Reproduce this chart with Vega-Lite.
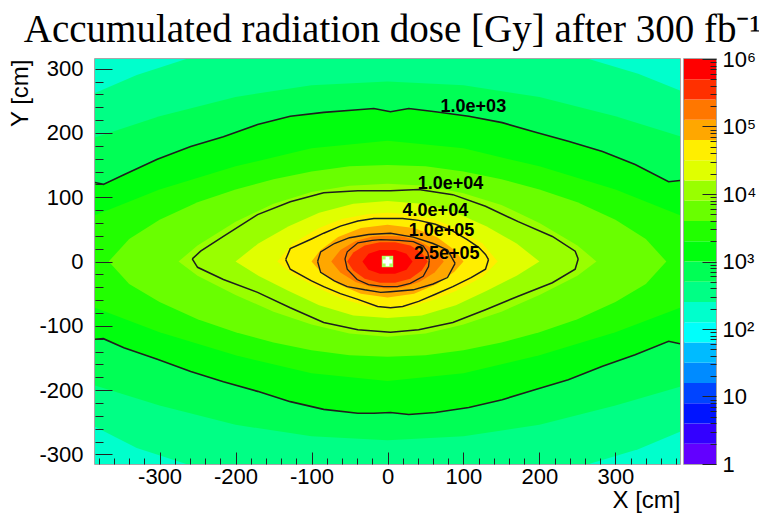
{
  "$schema": "https://vega.github.io/schema/vega-lite/v6.json",
  "background": "white",
  "padding": {"left": 8, "top": 11, "right": 2, "bottom": 2},
  "title": {"text": "Accumulated radiation dose [Gy] after 300 fb⁻¹", "font": "Liberation Serif", "fontSize": 39, "fontWeight": "normal", "color": "#000", "anchor": "middle", "offset": -3, "dx": 10},
  "config": {
    "view": {"stroke": "#8a8a8a", "strokeWidth": 1.5},
    "axis": {"labelFont": "Liberation Sans", "titleFont": "Liberation Sans", "labelFontSize": 22, "titleFontSize": 24, "titleFontWeight": "normal", "labelColor": "#000", "titleColor": "#000", "tickColor": "#222", "grid": false, "domain": false, "labelOverlap": false, "labelFlush": false}
  },
  "datasets": {
    "bands": [
      {"j":7,"x":-385,"y":315,"yb":-315},{"j":7,"x":385,"y":315,"yb":-315},
      {"j":8,"x":-385,"y":262,"yb":-257},{"j":8,"x":-330,"y":290,"yb":-290},{"j":8,"x":-265,"y":315,"yb":-315},{"j":8,"x":0,"y":315,"yb":-315},{"j":8,"x":265,"y":315,"yb":-315},{"j":8,"x":330,"y":292,"yb":-292},{"j":8,"x":385,"y":266,"yb":-265},
      {"j":9,"x":-385,"y":193,"yb":-193},{"j":9,"x":-300,"y":226,"yb":-224},{"j":9,"x":-200,"y":256,"yb":-254},{"j":9,"x":-100,"y":274,"yb":-272},{"j":9,"x":0,"y":280,"yb":-278},{"j":9,"x":100,"y":274,"yb":-272},{"j":9,"x":200,"y":256,"yb":-254},{"j":9,"x":300,"y":226,"yb":-224},{"j":9,"x":385,"y":195,"yb":-195},
      {"j":10,"x":-385,"y":123,"yb":-121},{"j":10,"x":-374,"y":120,"yb":-120},{"j":10,"x":-347,"y":135,"yb":-134},{"j":10,"x":-303,"y":159,"yb":-152},{"j":10,"x":-259,"y":179,"yb":-171},{"j":10,"x":-216,"y":194,"yb":-187},{"j":10,"x":-171,"y":213,"yb":-202},{"j":10,"x":-128,"y":226,"yb":-218},{"j":10,"x":-84,"y":232,"yb":-230},{"j":10,"x":-39,"y":236,"yb":-236},{"j":10,"x":-18,"y":238,"yb":-236},{"j":10,"x":4,"y":233,"yb":-235},{"j":10,"x":28,"y":238,"yb":-238},{"j":10,"x":63,"y":233,"yb":-235},{"j":10,"x":107,"y":226,"yb":-227},{"j":10,"x":151,"y":216,"yb":-215},{"j":10,"x":195,"y":201,"yb":-199},{"j":10,"x":238,"y":187,"yb":-184},{"j":10,"x":283,"y":171,"yb":-163},{"j":10,"x":326,"y":151,"yb":-145},{"j":10,"x":370,"y":124,"yb":-124},{"j":10,"x":385,"y":126,"yb":-128},
      {"j":11,"x":-385,"y":72,"yb":-72},{"j":11,"x":-300,"y":112,"yb":-110},{"j":11,"x":-200,"y":148,"yb":-146},{"j":11,"x":-100,"y":176,"yb":-174},{"j":11,"x":0,"y":188,"yb":-186},{"j":11,"x":100,"y":176,"yb":-174},{"j":11,"x":200,"y":148,"yb":-146},{"j":11,"x":300,"y":112,"yb":-110},{"j":11,"x":385,"y":72,"yb":-72},
      {"j":12,"x":-367,"y":0,"yb":0},{"j":12,"x":-340,"y":35,"yb":-35},{"j":12,"x":-300,"y":65,"yb":-63},{"j":12,"x":-250,"y":92,"yb":-90},{"j":12,"x":-200,"y":112,"yb":-110},{"j":12,"x":-150,"y":128,"yb":-126},{"j":12,"x":-100,"y":140,"yb":-138},{"j":12,"x":-50,"y":148,"yb":-146},{"j":12,"x":0,"y":150,"yb":-148},{"j":12,"x":50,"y":148,"yb":-146},{"j":12,"x":100,"y":140,"yb":-138},{"j":12,"x":150,"y":128,"yb":-126},{"j":12,"x":200,"y":112,"yb":-110},{"j":12,"x":250,"y":92,"yb":-90},{"j":12,"x":300,"y":65,"yb":-63},{"j":12,"x":340,"y":35,"yb":-35},{"j":12,"x":367,"y":0,"yb":0},
      {"j":13,"x":-275,"y":0,"yb":0},{"j":13,"x":-250,"y":25,"yb":-22},{"j":13,"x":-200,"y":62,"yb":-52},{"j":13,"x":-150,"y":90,"yb":-78},{"j":13,"x":-100,"y":108,"yb":-98},{"j":13,"x":-50,"y":118,"yb":-112},{"j":13,"x":0,"y":121,"yb":-117},{"j":13,"x":50,"y":118,"yb":-112},{"j":13,"x":100,"y":106,"yb":-98},{"j":13,"x":150,"y":88,"yb":-78},{"j":13,"x":200,"y":60,"yb":-52},{"j":13,"x":250,"y":25,"yb":-22},{"j":13,"x":275,"y":0,"yb":0},
      {"j":14,"x":-200,"y":0,"yb":0},{"j":14,"x":-170,"y":28,"yb":-22},{"j":14,"x":-130,"y":55,"yb":-46},{"j":14,"x":-90,"y":76,"yb":-68},{"j":14,"x":-45,"y":90,"yb":-84},{"j":14,"x":0,"y":94,"yb":-88},{"j":14,"x":45,"y":90,"yb":-84},{"j":14,"x":90,"y":76,"yb":-68},{"j":14,"x":130,"y":55,"yb":-46},{"j":14,"x":170,"y":28,"yb":-22},{"j":14,"x":200,"y":0,"yb":0},
      {"j":15,"x":-145,"y":0,"yb":0},{"j":15,"x":-125,"y":28,"yb":-20},{"j":15,"x":-90,"y":52,"yb":-42},{"j":15,"x":-60,"y":66,"yb":-58},{"j":15,"x":-25,"y":74,"yb":-70},{"j":15,"x":0,"y":76,"yb":-74},{"j":15,"x":25,"y":74,"yb":-72},{"j":15,"x":60,"y":66,"yb":-60},{"j":15,"x":90,"y":52,"yb":-46},{"j":15,"x":125,"y":28,"yb":-24},{"j":15,"x":145,"y":0,"yb":0},
      {"j":16,"x":-100,"y":0,"yb":0},{"j":16,"x":-88,"y":18,"yb":-16},{"j":16,"x":-65,"y":38,"yb":-35},{"j":16,"x":-35,"y":52,"yb":-50},{"j":16,"x":0,"y":57,"yb":-56},{"j":16,"x":35,"y":52,"yb":-50},{"j":16,"x":65,"y":38,"yb":-35},{"j":16,"x":88,"y":18,"yb":-16},{"j":16,"x":100,"y":0,"yb":0},
      {"j":17,"x":-74,"y":0,"yb":0},{"j":17,"x":-62,"y":18,"yb":-17},{"j":17,"x":-42,"y":32,"yb":-32},{"j":17,"x":-20,"y":39,"yb":-40},{"j":17,"x":0,"y":40,"yb":-42},{"j":17,"x":20,"y":39,"yb":-40},{"j":17,"x":42,"y":32,"yb":-32},{"j":17,"x":62,"y":18,"yb":-17},{"j":17,"x":74,"y":0,"yb":0},
      {"j":18,"x":-53,"y":0,"yb":0},{"j":18,"x":-45,"y":14,"yb":-14},{"j":18,"x":-30,"y":25,"yb":-27},{"j":18,"x":-10,"y":30,"yb":-33},{"j":18,"x":10,"y":30,"yb":-33},{"j":18,"x":30,"y":25,"yb":-27},{"j":18,"x":45,"y":14,"yb":-14},{"j":18,"x":53,"y":0,"yb":0},
      {"j":19,"x":-33,"y":0,"yb":0},{"j":19,"x":-25,"y":12,"yb":-13},{"j":19,"x":-10,"y":18,"yb":-19},{"j":19,"x":10,"y":18,"yb":-19},{"j":19,"x":25,"y":12,"yb":-13},{"j":19,"x":33,"y":0,"yb":0}
    ],
    "lines": [
      {"c":"1e3","s":"t","x":-385,"y":123},{"c":"1e3","s":"t","x":-374,"y":120},{"c":"1e3","s":"t","x":-347,"y":135},{"c":"1e3","s":"t","x":-303,"y":159},{"c":"1e3","s":"t","x":-259,"y":179},{"c":"1e3","s":"t","x":-216,"y":194},{"c":"1e3","s":"t","x":-171,"y":213},{"c":"1e3","s":"t","x":-128,"y":226},{"c":"1e3","s":"t","x":-84,"y":232},{"c":"1e3","s":"t","x":-39,"y":236},{"c":"1e3","s":"t","x":-18,"y":238},{"c":"1e3","s":"t","x":4,"y":233},{"c":"1e3","s":"t","x":28,"y":238},{"c":"1e3","s":"t","x":63,"y":233},{"c":"1e3","s":"t","x":107,"y":226},{"c":"1e3","s":"t","x":151,"y":216},{"c":"1e3","s":"t","x":195,"y":201},{"c":"1e3","s":"t","x":238,"y":187},{"c":"1e3","s":"t","x":283,"y":171},{"c":"1e3","s":"t","x":326,"y":151},{"c":"1e3","s":"t","x":370,"y":124},{"c":"1e3","s":"t","x":385,"y":126},
      {"c":"1e3","s":"b","x":-385,"y":-121},{"c":"1e3","s":"b","x":-374,"y":-120},{"c":"1e3","s":"b","x":-347,"y":-134},{"c":"1e3","s":"b","x":-303,"y":-152},{"c":"1e3","s":"b","x":-259,"y":-171},{"c":"1e3","s":"b","x":-216,"y":-187},{"c":"1e3","s":"b","x":-171,"y":-202},{"c":"1e3","s":"b","x":-128,"y":-218},{"c":"1e3","s":"b","x":-84,"y":-230},{"c":"1e3","s":"b","x":-39,"y":-236},{"c":"1e3","s":"b","x":-18,"y":-236},{"c":"1e3","s":"b","x":4,"y":-235},{"c":"1e3","s":"b","x":28,"y":-238},{"c":"1e3","s":"b","x":63,"y":-235},{"c":"1e3","s":"b","x":107,"y":-227},{"c":"1e3","s":"b","x":151,"y":-215},{"c":"1e3","s":"b","x":195,"y":-199},{"c":"1e3","s":"b","x":238,"y":-184},{"c":"1e3","s":"b","x":283,"y":-163},{"c":"1e3","s":"b","x":326,"y":-145},{"c":"1e3","s":"b","x":370,"y":-124},{"c":"1e3","s":"b","x":385,"y":-128},
      {"c":"1e4","s":"t","x":-257,"y":4},{"c":"1e4","s":"t","x":-246,"y":16},{"c":"1e4","s":"t","x":-216,"y":39},{"c":"1e4","s":"t","x":-171,"y":73},{"c":"1e4","s":"t","x":-128,"y":93},{"c":"1e4","s":"t","x":-84,"y":107},{"c":"1e4","s":"t","x":-39,"y":110},{"c":"1e4","s":"t","x":4,"y":110},{"c":"1e4","s":"t","x":41,"y":112},{"c":"1e4","s":"t","x":86,"y":104},{"c":"1e4","s":"t","x":129,"y":86},{"c":"1e4","s":"t","x":172,"y":62},{"c":"1e4","s":"t","x":217,"y":39},{"c":"1e4","s":"t","x":247,"y":16},{"c":"1e4","s":"t","x":251,"y":4},
      {"c":"1e4","s":"b","x":-257,"y":4},{"c":"1e4","s":"b","x":-250,"y":-9},{"c":"1e4","s":"b","x":-216,"y":-28},{"c":"1e4","s":"b","x":-171,"y":-48},{"c":"1e4","s":"b","x":-128,"y":-72},{"c":"1e4","s":"b","x":-84,"y":-95},{"c":"1e4","s":"b","x":-39,"y":-106},{"c":"1e4","s":"b","x":4,"y":-110},{"c":"1e4","s":"b","x":41,"y":-106},{"c":"1e4","s":"b","x":86,"y":-95},{"c":"1e4","s":"b","x":129,"y":-75},{"c":"1e4","s":"b","x":172,"y":-54},{"c":"1e4","s":"b","x":217,"y":-33},{"c":"1e4","s":"b","x":247,"y":-12},{"c":"1e4","s":"b","x":251,"y":4},
      {"c":"4e4","s":"t","x":-134,"y":3},{"c":"4e4","s":"t","x":-128,"y":20},{"c":"4e4","s":"t","x":-100,"y":35},{"c":"4e4","s":"t","x":-84,"y":44},{"c":"4e4","s":"t","x":-62,"y":55},{"c":"4e4","s":"t","x":-39,"y":63},{"c":"4e4","s":"t","x":-18,"y":67},{"c":"4e4","s":"t","x":4,"y":67},{"c":"4e4","s":"t","x":20,"y":67},{"c":"4e4","s":"t","x":41,"y":64},{"c":"4e4","s":"t","x":63,"y":58},{"c":"4e4","s":"t","x":85,"y":48},{"c":"4e4","s":"t","x":105,"y":34},{"c":"4e4","s":"t","x":120,"y":22},{"c":"4e4","s":"t","x":129,"y":11},{"c":"4e4","s":"t","x":133,"y":3},
      {"c":"4e4","s":"b","x":-134,"y":3},{"c":"4e4","s":"b","x":-128,"y":-12},{"c":"4e4","s":"b","x":-100,"y":-30},{"c":"4e4","s":"b","x":-84,"y":-39},{"c":"4e4","s":"b","x":-62,"y":-50},{"c":"4e4","s":"b","x":-39,"y":-59},{"c":"4e4","s":"b","x":-13,"y":-70},{"c":"4e4","s":"b","x":4,"y":-72},{"c":"4e4","s":"b","x":20,"y":-70},{"c":"4e4","s":"b","x":41,"y":-62},{"c":"4e4","s":"b","x":63,"y":-51},{"c":"4e4","s":"b","x":86,"y":-39},{"c":"4e4","s":"b","x":110,"y":-25},{"c":"4e4","s":"b","x":129,"y":-12},{"c":"4e4","s":"b","x":133,"y":3},
      {"c":"1e5","s":"t","x":-92,"y":0},{"c":"1e5","s":"t","x":-88,"y":15},{"c":"1e5","s":"t","x":-70,"y":28},{"c":"1e5","s":"t","x":-50,"y":37},{"c":"1e5","s":"t","x":-25,"y":42},{"c":"1e5","s":"t","x":4,"y":44},{"c":"1e5","s":"t","x":34,"y":38},{"c":"1e5","s":"t","x":60,"y":28},{"c":"1e5","s":"t","x":79,"y":18},{"c":"1e5","s":"t","x":89,"y":-3},
      {"c":"1e5","s":"b","x":-92,"y":0},{"c":"1e5","s":"b","x":-88,"y":-17},{"c":"1e5","s":"b","x":-70,"y":-30},{"c":"1e5","s":"b","x":-53,"y":-39},{"c":"1e5","s":"b","x":-30,"y":-44},{"c":"1e5","s":"b","x":-9,"y":-48},{"c":"1e5","s":"b","x":4,"y":-47},{"c":"1e5","s":"b","x":34,"y":-44},{"c":"1e5","s":"b","x":60,"y":-35},{"c":"1e5","s":"b","x":79,"y":-25},{"c":"1e5","s":"b","x":89,"y":-3},
      {"c":"2.5e5","s":"t","x":-56,"y":4},{"c":"2.5e5","s":"t","x":-53,"y":15},{"c":"2.5e5","s":"t","x":-39,"y":29},{"c":"2.5e5","s":"t","x":-20,"y":33},{"c":"2.5e5","s":"t","x":-9,"y":34},{"c":"2.5e5","s":"t","x":15,"y":33},{"c":"2.5e5","s":"t","x":34,"y":31},{"c":"2.5e5","s":"t","x":47,"y":24},{"c":"2.5e5","s":"t","x":53,"y":14},{"c":"2.5e5","s":"t","x":55,"y":2},
      {"c":"2.5e5","s":"b","x":-56,"y":4},{"c":"2.5e5","s":"b","x":-53,"y":-12},{"c":"2.5e5","s":"b","x":-40,"y":-28},{"c":"2.5e5","s":"b","x":-25,"y":-36},{"c":"2.5e5","s":"b","x":-5,"y":-39},{"c":"2.5e5","s":"b","x":13,"y":-39},{"c":"2.5e5","s":"b","x":30,"y":-34},{"c":"2.5e5","s":"b","x":47,"y":-23},{"c":"2.5e5","s":"b","x":54,"y":-8},{"c":"2.5e5","s":"b","x":55,"y":2}
    ],
    "labels": [
      {"label":"1.0e+03","x":113,"y":241},
      {"label":"1.0e+04","x":83,"y":120},
      {"label":"4.0e+04","x":63,"y":78},
      {"label":"1.0e+05","x":71,"y":47},
      {"label":"2.5e+05","x":78,"y":11}
    ],
    "center": [{"x":0,"y":0}],
    "cbar": [
      {"j":0,"lo":1,"hi":1.995},{"j":1,"lo":1.995,"hi":3.981},{"j":2,"lo":3.981,"hi":7.943},{"j":3,"lo":7.943,"hi":15.85},{"j":4,"lo":15.85,"hi":31.62},{"j":5,"lo":31.62,"hi":63.1},{"j":6,"lo":63.1,"hi":125.9},{"j":7,"lo":125.9,"hi":251.2},{"j":8,"lo":251.2,"hi":501.2},{"j":9,"lo":501.2,"hi":1000},{"j":10,"lo":1000,"hi":1995},{"j":11,"lo":1995,"hi":3981},{"j":12,"lo":3981,"hi":7943},{"j":13,"lo":7943,"hi":15849},{"j":14,"lo":15849,"hi":31623},{"j":15,"lo":31623,"hi":63096},{"j":16,"lo":63096,"hi":125893},{"j":17,"lo":125893,"hi":251189},{"j":18,"lo":251189,"hi":501187},{"j":19,"lo":501187,"hi":1000000}
    ]
  },
  "spacing": 2,
  "resolve": {"scale": {"x": "independent", "y": "independent", "color": "independent"}},
  "hconcat": [
    {
      "width": 585,
      "height": 405,
      "encoding": {
        "x": {"field": "x", "type": "quantitative", "scale": {"domain": [-385, 385], "nice": false, "zero": false},
          "axis": {"zindex": 2, "title": "X [cm]", "titleAnchor": "end", "titleAlign": "right", "titlePadding": -5, "labelPadding": 14,
            "values": [-380,-360,-340,-320,-300,-280,-260,-240,-220,-200,-180,-160,-140,-120,-100,-80,-60,-40,-20,0,20,40,60,80,100,120,140,160,180,200,220,240,260,280,300,320,340,360,380],
            "labelExpr": "datum.value % 100 === 0 ? '' + datum.value : ''",
            "tickSize": {"condition": {"test": "datum.value % 100 === 0", "value": -12}, "value": -6}}},
        "y": {"field": "y", "type": "quantitative", "stack": null, "scale": {"domain": [-315, 315], "nice": false, "zero": false},
          "axis": {"zindex": 2, "title": "Y [cm]", "titleAnchor": "end", "titlePadding": 6, "labelPadding": 29,
            "values": [-300,-280,-260,-240,-220,-200,-180,-160,-140,-120,-100,-80,-60,-40,-20,0,20,40,60,80,100,120,140,160,180,200,220,240,260,280,300],
            "labelExpr": "datum.value % 100 === 0 ? '' + datum.value : ''",
            "tickSize": {"condition": {"test": "datum.value % 100 === 0", "value": -17}, "value": -8}}}
      },
      "layer": [
        {
          "data": {"name": "bands"},
          "mark": {"type": "area", "clip": true, "interpolate": "linear"},
          "encoding": {
            "y2": {"field": "yb"},
            "color": {"field": "j", "type": "ordinal", "legend": null,
              "scale": {"domain": [0,1,2,3,4,5,6,7,8,9,10,11,12,13,14,15,16,17,18,19],
                "range": ["#6300ff","#3300ff","#0014ff","#0044ff","#008bff","#00bbff","#00fffb","#00ffcc","#00ff85","#00ff55","#00ff0e","#22ff00","#69ff00","#99ff00","#e0ff00","#ffee00","#ffa700","#ff7700","#ff3000","#ff0000"]}}
          }
        },
        {
          "data": {"name": "lines"},
          "mark": {"type": "line", "clip": true, "color": "#1e1e1e"},
          "encoding": {
            "detail": [{"field": "c"}, {"field": "s"}],
            "strokeWidth": {"field": "c", "type": "nominal", "legend": null, "scale": {"domain": ["1e3","1e4","4e4","1e5","2.5e5"], "range": [1.6, 1.3, 2.6, 1.3, 1.1]}}
          }
        },
        {
          "data": {"name": "center"},
          "mark": {"type": "point", "shape": "square", "filled": true, "color": "#b0ff60", "size": 130, "opacity": 1},
          "encoding": {}
        },
        {
          "data": {"name": "center"},
          "mark": {"type": "point", "shape": "cross", "filled": true, "color": "#ffffff", "size": 90, "opacity": 1},
          "encoding": {}
        },
        {
          "data": {"name": "labels"},
          "mark": {"type": "text", "font": "Liberation Sans", "fontSize": 18, "fontWeight": "bold", "color": "#000"},
          "encoding": {"text": {"field": "label"}}
        }
      ]
    },
    {
      "width": 32,
      "height": 405,
      "data": {"name": "cbar"},
      "mark": {"type": "rect"},
      "encoding": {
        "y": {"field": "lo", "type": "quantitative", "scale": {"type": "log", "domain": [1, 1000000], "nice": false},
          "axis": {"zindex": 2, "orient": "right", "title": null, "labelPadding": 20, "labelBaseline": "middle",
            "values": [1,2,3,4,5,6,7,8,9,10,20,30,40,50,60,70,80,90,100,200,300,400,500,600,700,800,900,1000,2000,3000,4000,5000,6000,7000,8000,9000,10000,20000,30000,40000,50000,60000,70000,80000,90000,100000,200000,300000,400000,500000,600000,700000,800000,900000,1000000],
            "labelExpr": "datum.value == 1 ? '1' : datum.value == 10 ? '10' : datum.value == 100 ? '10²' : datum.value == 1000 ? '10³' : datum.value == 10000 ? '10⁴' : datum.value == 100000 ? '10⁵' : datum.value == 1000000 ? '10⁶' : ''",
            "tickSize": {"condition": {"test": "datum.value == 1 || datum.value == 10 || datum.value == 100 || datum.value == 1000 || datum.value == 10000 || datum.value == 100000 || datum.value == 1000000", "value": -14}, "value": -6}}},
        "y2": {"field": "hi"},
        "color": {"field": "j", "type": "ordinal", "legend": null,
          "scale": {"domain": [0,1,2,3,4,5,6,7,8,9,10,11,12,13,14,15,16,17,18,19],
            "range": ["#6300ff","#3300ff","#0014ff","#0044ff","#008bff","#00bbff","#00fffb","#00ffcc","#00ff85","#00ff55","#00ff0e","#22ff00","#69ff00","#99ff00","#e0ff00","#ffee00","#ffa700","#ff7700","#ff3000","#ff0000"]}}
      }
    }
  ]
}
